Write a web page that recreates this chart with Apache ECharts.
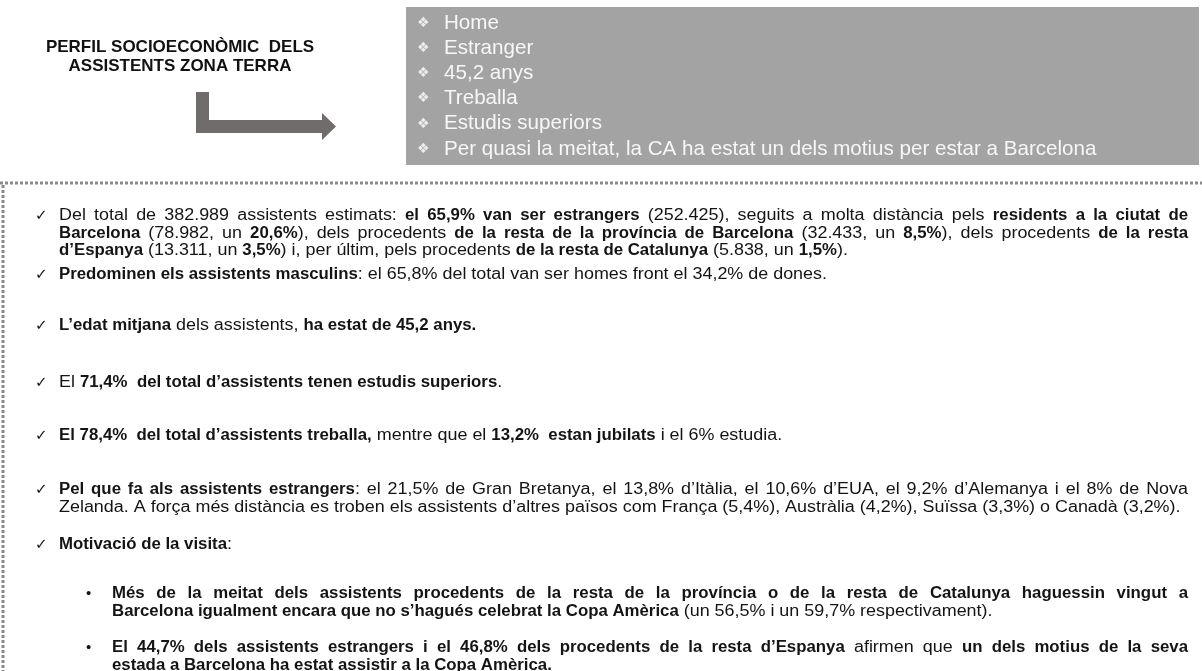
<!DOCTYPE html>
<html>
<head>
<meta charset="utf-8">
<script src="https://cdn.jsdelivr.net/npm/echarts@6/dist/echarts.min.js"></script>
<style>
  html, body { margin: 0; padding: 0; background: #fff; }
  #main { width: 1202px; height: 671px; }
</style>
</head>
<body>
<div id="main"></div>
<script>
// textos de la diapositiva (negreta entre **)
var titleLines = ['PERFIL SOCIOECONÒMIC  DELS', 'ASSISTENTS ZONA TERRA'];

var summaryItems = [
    'Home',
    'Estranger',
    '45,2 anys',
    'Treballa',
    'Estudis superiors',
    'Per quasi la meitat, la CA ha estat un dels motius per estar a Barcelona'
];

var pOrigen = [
    'Del total de 382.989 assistents estimats: **el 65,9% van ser estrangers** (252.425), seguits a molta distància pels **residents a la ciutat de**',
    '**Barcelona** (78.982, un **20,6%**), dels procedents **de la resta de la província de Barcelona** (32.433, un **8,5%**), dels procedents **de la resta**',
    '**d’Espanya** (13.311, un **3,5%**) i, per últim, pels procedents **de la resta de Catalunya** (5.838, un **1,5%**).'
];
var pSexe = ['**Predominen els assistents masculins**: el 65,8% del total van ser homes front el 34,2% de dones.'];
var pEdat = ['**L’edat mitjana** dels assistents, **ha estat de 45,2 anys.**'];
var pEstudis = ['El **71,4%  del total d’assistents tenen estudis superiors**.'];
var pFeina = ['**El 78,4%  del total d’assistents treballa,** mentre que el **13,2%  estan jubilats** i el 6% estudia.'];
var pPaisos = [
    '**Pel que fa als assistents estrangers**: el 21,5% de Gran Bretanya, el 13,8% d’Itàlia, el 10,6% d’EUA, el 9,2% d’Alemanya i el 8% de Nova',
    'Zelanda. A força més distància es troben els assistents d’altres països com França (5,4%), Austràlia (4,2%), Suïssa (3,3%) o Canadà (3,2%).'
];
var pMotivacio = ['**Motivació de la visita**:'];
var pMotiu1 = [
    '**Més de la meitat dels assistents procedents de la resta de la província o de la resta de Catalunya haguessin vingut a**',
    '**Barcelona igualment encara que no s’hagués celebrat la Copa Amèrica** (un 56,5% i un 59,7% respectivament).'
];
var pMotiu2 = [
    '**El 44,7% dels assistents estrangers i el 46,8% dels procedents de la resta d’Espanya** afirmen que **un dels motius de la seva**',
    '**estada a Barcelona ha estat assistir a la Copa Amèrica.**'
];

var paragraphs = [pOrigen, pSexe, pEdat, pEstudis, pFeina, pPaisos, pMotivacio, pMotiu1, pMotiu2];
var paragraphMarks = ['check', 'check', 'check', 'check', 'check', 'check', 'check', 'dot', 'dot'];

// ---- maquetació ----
var FONT = '"Liberation Sans", Arial, "DejaVu Sans", sans-serif';
var FS = 16;
var SX_REG = 1.12;   // la lletra de la diapositiva surt una mica eixamplada
var SX_BOLD = 1.05;
var LINE = 17.5;
var TEXT_COLOR = '#141414';
var paraTop = [216, 275, 326, 383, 436, 490, 545, 594, 648];
var RIGHT = 1188;

var ctx = document.createElement('canvas').getContext('2d');
function fontOf(b, size) {
    return (b ? 'bold ' : '') + size + 'px ' + FONT;
}
function sx(b) { return b ? SX_BOLD : SX_REG; }
function measure(t, b) {
    ctx.font = fontOf(b, FS);
    return ctx.measureText(t).width * sx(b);
}
function segsOf(line) {
    return line.split('**').map(function (t, i) {
        return { t: t, b: i % 2 === 1 };
    }).filter(function (s) { return s.t.length > 0; });
}
function textEl(x, y, t, b, size, color, align, scaleX) {
    return {
        type: 'text', x: x, y: y, silent: true, scaleX: scaleX || 1,
        style: {
            text: t, font: fontOf(b, size), fill: color,
            verticalAlign: 'middle', align: align || 'left'
        }
    };
}
function bodyEl(x, y, t, b) {
    return textEl(x, y, t, b, FS, TEXT_COLOR, 'left', sx(b));
}

function layoutLine(els, line, x0, y, justify) {
    var segs = segsOf(line);
    if (!justify) {
        var x = x0;
        segs.forEach(function (s) {
            els.push(bodyEl(x, y, s.t, s.b));
            x += measure(s.t, s.b);
        });
        return;
    }
    // paraules per justificar
    var words = [], cur = [];
    segs.forEach(function (s) {
        var parts = s.t.split(' ');
        parts.forEach(function (p, j) {
            if (j > 0 && cur.length) { words.push(cur); cur = []; }
            if (p.length) cur.push({ t: p, b: s.b });
        });
    });
    if (cur.length) words.push(cur);
    var total = 0;
    words.forEach(function (w) {
        w.forEach(function (p) { p.w = measure(p.t, p.b); total += p.w; });
    });
    var gap = Math.max((RIGHT - x0 - total) / (words.length - 1), 2);
    var x = x0;
    words.forEach(function (w) {
        w.forEach(function (p) {
            els.push(bodyEl(x, y, p.t, p.b));
            x += p.w;
        });
        x += gap;
    });
}

var els = [];

// títol
titleLines.forEach(function (t, i) {
    els.push(textEl(180, 47 + i * 19, t, true, 17, '#111', 'center'));
});

// fletxa
els.push({
    type: 'polygon', silent: true,
    shape: { points: [[196, 92], [209, 92], [209, 120], [322, 120], [322, 113], [336, 126.5], [322, 140], [322, 133], [196, 133]] },
    style: { fill: '#706c6c' }
});

// caixa resum
els.push({ type: 'rect', silent: true, shape: { x: 406, y: 7, width: 793, height: 158 }, style: { fill: '#a3a3a3' } });
summaryItems.forEach(function (t, i) {
    var y = 23 + i * 25.2;
    els.push(textEl(417, y, '❖', false, 14, '#ececec'));
    els.push(textEl(444, y, t, false, 20.6, '#f7f7f7'));
});

// marc puntejat
els.push({ type: 'line', silent: true, shape: { x1: 0, y1: 183, x2: 1202, y2: 183 }, style: { stroke: '#8a8a8a', lineWidth: 3, lineDash: [3, 2] } });
els.push({ type: 'line', silent: true, shape: { x1: 3, y1: 185, x2: 3, y2: 671 }, style: { stroke: '#8a8a8a', lineWidth: 3, lineDash: [3, 2] } });

// paràgrafs
paragraphs.forEach(function (lines, k) {
    var isSub = paragraphMarks[k] === 'dot';
    var markX = isSub ? 86 : 35;
    var textX = isSub ? 112 : 59;
    var y0 = paraTop[k];
    els.push(textEl(markX, y0, isSub ? '•' : '✓', false, 15, TEXT_COLOR));
    lines.forEach(function (line, i) {
        layoutLine(els, line, textX, y0 + i * LINE, i < lines.length - 1);
    });
});

var chart = echarts.init(document.getElementById('main'));
chart.setOption({
    backgroundColor: '#fff',
    animation: false,
    graphic: { elements: els }
});
window.addEventListener('resize', function () { chart.resize(); });
</script>
</body>
</html>
